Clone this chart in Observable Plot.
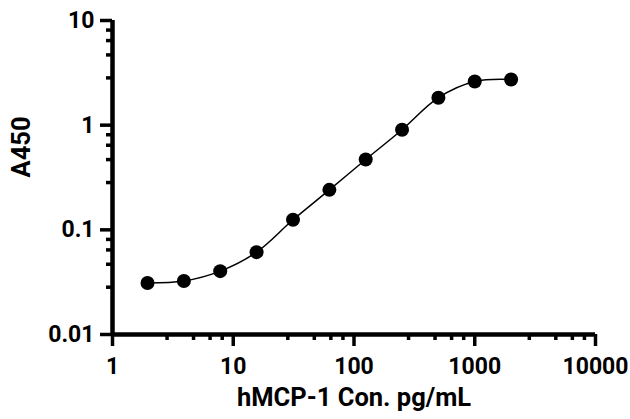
<!DOCTYPE html>
<html>
<head>
<meta charset="utf-8">
<script src="https://cdn.jsdelivr.net/npm/d3@7"></script>
<script src="https://cdn.jsdelivr.net/npm/@observablehq/plot@0.6"></script>
<style>
  html, body { margin: 0; padding: 0; background: white; }
</style>
</head>
<body>
<div id="chart"></div>
<script>
// Data
const concentration = [1.95, 3.9, 7.8, 15.6, 31.25, 62.5, 125, 250, 500, 1000, 2000];
const a450 = [0.031, 0.0324, 0.0403, 0.0612, 0.1247, 0.241, 0.470, 0.904, 1.83, 2.61, 2.73];

const xMajorTicks = [1, 10, 100, 1000, 10000];
const xTickLabels = ["1", "10", "100", "1000", "10000"];
const yMajorTicks = [0.01, 0.1, 1, 10];
const yTickLabels = ["0.01", "0.1", "1", "10"];
const minorFactors = [2.83, 4.69, 6.43, 8.1];
const xDecades = [1, 10, 100, 1000];
const yDecades = [0.01, 0.1, 1];

const xMinorTicks = xDecades.flatMap(d => minorFactors.map(f => d * f));
const yMinorTicks = yDecades.flatMap(d => minorFactors.map(f => d * f));

const data = concentration.map((c, i) => ({c, a: a450[i]}));

const W = 630, H = 419;
const mL = 112, mR = 35, mT = 20, mB = 85;
const frameW = W - mL - mR, frameH = H - mT - mB;
const majorLen = 12, minorLen = 6;
const tickW = 3.5, axisW = 4.5;

const labelFont = {fontFamily: "Roboto", fontWeight: 700, fontSize: 23, fill: "black"};
const titleFont = {fontFamily: "Roboto", fontWeight: 700, fontSize: 25.5, fill: "black"};

const chart = Plot.plot({
  width: W,
  height: H,
  marginLeft: mL,
  marginRight: mR,
  marginTop: mT,
  marginBottom: mB,
  style: {fontFamily: "Roboto", background: "white", color: "black"},
  x: {type: "log", domain: [1, 10000], axis: null},
  y: {type: "log", domain: [0.01, 10], axis: null},
  marks: [
    // x ticks (below the axis line)
    Plot.tickX(xMajorTicks, {x: d => d, insetTop: frameH - majorLen, dy: majorLen, stroke: "black", strokeWidth: tickW}),
    Plot.tickX(xMinorTicks, {x: d => d, insetTop: frameH - minorLen, dy: minorLen, stroke: "black", strokeWidth: tickW}),
    // y ticks (left of the axis line)
    Plot.tickY(yMajorTicks, {y: d => d, insetRight: frameW - majorLen, dx: -majorLen, stroke: "black", strokeWidth: tickW}),
    Plot.tickY(yMinorTicks, {y: d => d, insetRight: frameW - minorLen, dx: -minorLen, stroke: "black", strokeWidth: tickW}),
    // axis lines
    Plot.ruleX([1], {strokeWidth: axisW, stroke: "black"}),
    Plot.ruleY([0.01], {strokeWidth: axisW, stroke: "black"}),
    // tick labels
    Plot.text(xMajorTicks, {x: d => d, text: (d, i) => xTickLabels[i], frameAnchor: "bottom", lineAnchor: "top", dy: 23, textAnchor: "middle", ...labelFont}),
    Plot.text(yMajorTicks, {y: d => d, text: (d, i) => yTickLabels[i], frameAnchor: "left", lineAnchor: "middle", dx: -18, textAnchor: "end", ...labelFont}),
    // data
    Plot.line(data, {x: "c", y: "a", curve: "catmull-rom", stroke: "black", strokeWidth: 1.5}),
    Plot.dot(data, {x: "c", y: "a", r: 7, fill: "black", stroke: "none"}),
    // axis titles
    Plot.text(["A450"], {frameAnchor: "left", dx: -91, rotate: -90, ...titleFont}),
    Plot.text(["hMCP-1 Con. pg/mL"], {frameAnchor: "bottom", dy: 71, ...titleFont})
  ]
});
document.getElementById("chart").appendChild(chart);
</script>
</body>
</html>
